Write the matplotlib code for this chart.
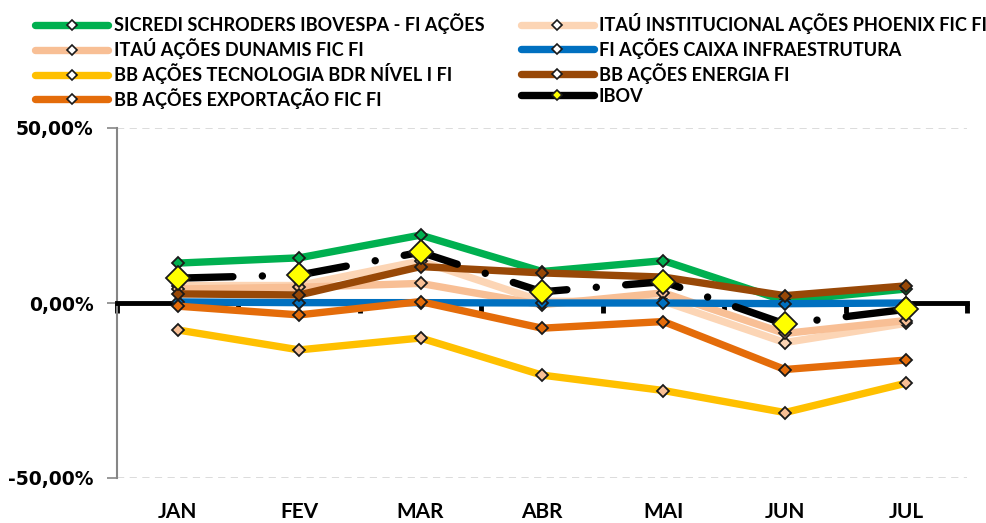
import matplotlib
matplotlib.use("Agg")
import matplotlib.pyplot as plt
from matplotlib.ticker import FixedLocator
from matplotlib.lines import Line2D

plt.rcParams['font.family'] = ['Lato', 'DejaVu Sans']
plt.rcParams['font.weight'] = 'bold'

months = ["JAN", "FEV", "MAR", "ABR", "MAI", "JUN", "JUL"]

sicredi = [11.4, 12.9, 19.4, 9.0, 12.1, 0.6, 4.0]
itau_inst = [5.0, 5.0, 12.0, 0.5, 0.5, -11.3, -5.8]
itau_dunamis = [4.0, 4.5, 5.6, -0.5, 2.9, -8.7, -5.0]
caixa = [0.3, 0.1, 0.1, 0.0, 0.0, -0.2, 0.0]
tecnologia = [-7.7, -13.4, -10.0, -20.6, -25.0, -31.3, -22.9]
energia = [2.6, 2.3, 10.4, 8.6, 7.4, 2.1, 4.9]
exportacao = [-0.9, -3.4, 0.4, -7.2, -5.3, -19.0, -16.3]
ibov = [7.1, 8.0, 14.5, 3.2, 6.1, -6.0, -1.8]
ytick_vals = [-50, 0, 50]
ytick_labels = ["-50,00%", "0,00%", "50,00%"]

series = [
    ("SICREDI SCHRODERS IBOVESPA - FI AÇÕES", sicredi, "#00B050", "#00B050"),
    ("ITAÚ INSTITUCIONAL AÇÕES PHOENIX FIC FI", itau_inst, "#FCD5B5", "#FCD5B5"),
    ("ITAÚ AÇÕES DUNAMIS FIC FI", itau_dunamis, "#F8BF95", "#F8BF95"),
    ("FI AÇÕES CAIXA INFRAESTRUTURA", caixa, "#0070C0", "#0070C0"),
    ("BB AÇÕES TECNOLOGIA BDR NÍVEL I FI", tecnologia, "#FFC000", "#F8BF95"),
    ("BB AÇÕES ENERGIA FI", energia, "#984807", "#984807"),
    ("BB AÇÕES EXPORTAÇÃO FIC FI", exportacao, "#E46C0A", "#E46C0A"),
]

fig = plt.figure(figsize=(9.87, 5.23), dpi=100)
ax = fig.add_axes([117/987, 1-478/523, 850/987, 350/523])
x = list(range(len(months)))

handles = {}
for i, (name, vals, lc, mc) in enumerate(series):
    ax.plot(x, vals, color=lc, lw=5.3, marker='D', ms=6.5,
            markerfacecolor=mc, markeredgecolor='#1a1a1a', markeredgewidth=1.3,
            solid_capstyle='butt', zorder=3 + i * 0.1)
    handles[name] = Line2D([], [], color=lc, lw=5.3, marker='D', ms=5.5,
                           markerfacecolor='white', markeredgecolor='#1a1a1a',
                           markeredgewidth=1.2, solid_capstyle='round')
ax.plot(x, ibov, color='black', lw=5.3, linestyle=(0, (7.5, 4, 0.01, 4)),
        dash_capstyle='round', marker='D', ms=12, markerfacecolor='#FFFF00',
        markeredgecolor='#1a1a1a', markeredgewidth=1.3, zorder=5)
handles["IBOV"] = Line2D([], [], color='black', lw=5.3, marker='D', ms=5.5,
                         markerfacecolor='#FFFF00', markeredgecolor='#1a1a1a',
                         markeredgewidth=1.2, solid_capstyle='round')

ax.set_xlim(-0.5, len(months) - 0.5)
ax.set_ylim(-50, 50)

# y axis
ax.set_yticks(ytick_vals)
ax.set_yticklabels(ytick_labels, family=['DejaVu Sans'], fontweight='bold')
ax.tick_params(axis='y', colors='#868686', length=7, width=1.2, labelsize=13.5,
               labelcolor='black', pad=10)
ax.spines['left'].set_color('#868686')
ax.spines['left'].set_linewidth(1.5)
ax.spines['top'].set_visible(False)
ax.spines['right'].set_visible(False)
ax.yaxis.grid(True, color='#D9D9D9', linestyle=(0, (4, 3)), lw=1.3)
ax.set_axisbelow(True)

# category axis crossing at zero
ax.spines['bottom'].set_position(('data', 0))
ax.spines['bottom'].set_color('black')
ax.spines['bottom'].set_linewidth(3.5)
ax.spines['bottom'].set_zorder(2.5)
ax.xaxis.set_major_locator(FixedLocator([i - 0.5 for i in range(len(months) + 1)]))
ax.tick_params(axis='x', direction='out', length=7, width=3.5, color='black',
               labelbottom=False)

sec = ax.secondary_xaxis('bottom')
sec.set_xticks(x)
sec.set_xticklabels(months)
sec.spines['bottom'].set_visible(False)
sec.tick_params(length=0, labelsize=15, pad=17)

order = ["SICREDI SCHRODERS IBOVESPA - FI AÇÕES", "ITAÚ AÇÕES DUNAMIS FIC FI",
         "BB AÇÕES TECNOLOGIA BDR NÍVEL I FI", "BB AÇÕES EXPORTAÇÃO FIC FI",
         "ITAÚ INSTITUCIONAL AÇÕES PHOENIX FIC FI", "FI AÇÕES CAIXA INFRAESTRUTURA",
         "BB AÇÕES ENERGIA FI", "IBOV"]
leg = fig.legend([handles[k] for k in order], order, ncol=2, loc='upper left',
                 bbox_to_anchor=(0.0249, 0.996), frameon=False, fontsize=13.1,
                 handlelength=4.0, handletextpad=0.3, columnspacing=2.0,
                 labelspacing=0.22, borderaxespad=0.2)

fig.savefig("out.png", dpi=100)
